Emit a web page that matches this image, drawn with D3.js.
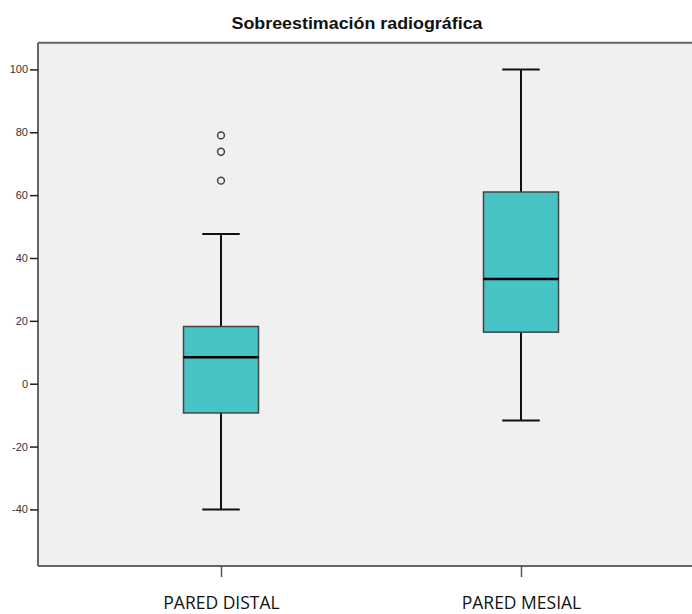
<!DOCTYPE html>
<html>
<head>
<meta charset="utf-8">
<script src="https://cdn.jsdelivr.net/npm/d3@7"></script>
<style>
  body { margin: 0; background: #fff; }
  svg { display: block; }
</style>
</head>
<body>
<svg width="692" height="614"></svg>
<script>
// Values
const categories = ["PARED DISTAL", "PARED MESIAL"];
const whiskerLow = [-40, -11.7];
const q1 = [-9.3, 16.4];
const median = [8.4, 33.3];
const q3 = [18.2, 61.0];
const whiskerHigh = [47.6, 100];
const outliers = [[64.6, 73.8, 79.0], []];
const yTicks = [-40, -20, 0, 20, 40, 60, 80, 100];

const svg = d3.select("svg"),
    width = +svg.attr("width"),
    height = +svg.attr("height");

const plotLeft = 38, plotTop = 42.7, plotBottom = 566;

const y = d3.scaleLinear().domain([-58, 108.5]).range([plotBottom, plotTop]);
// plot continues past the right edge of the picture
const x = d3.scalePoint().domain(categories).range([plotLeft, 704]).padding(0.61);
const step = x.step();
const boxW = step * 0.25;
const capW = boxW / 2;

// plot background
svg.append("rect")
    .attr("x", plotLeft).attr("y", plotTop)
    .attr("width", width - plotLeft).attr("height", plotBottom - plotTop)
    .attr("fill", "#f0f0f0");

// title
svg.append("text")
    .attr("x", 357).attr("y", 29)
    .attr("text-anchor", "middle")
    .attr("textLength", 251)
    .attr("lengthAdjust", "spacingAndGlyphs")
    .style("font-family", "Liberation Sans, Arial, sans-serif")
    .style("font-weight", "bold")
    .style("font-size", "16px")
    .attr("fill", "#111")
    .text("Sobreestimación radiográfica");

const data = categories.map((c, i) => ({
    name: c, lo: whiskerLow[i], q1: q1[i], med: median[i], q3: q3[i], hi: whiskerHigh[i], out: outliers[i]
}));

const g = svg.append("g");

const box = g.selectAll(".box").data(data).enter().append("g").attr("class", "box");

// whisker stems
box.append("line")
    .attr("x1", d => x(d.name)).attr("x2", d => x(d.name))
    .attr("y1", d => y(d.hi)).attr("y2", d => y(d.q3))
    .attr("stroke", "#111").attr("stroke-width", 2);
box.append("line")
    .attr("x1", d => x(d.name)).attr("x2", d => x(d.name))
    .attr("y1", d => y(d.q1)).attr("y2", d => y(d.lo))
    .attr("stroke", "#111").attr("stroke-width", 2);

// caps
box.selectAll(".cap").data(d => [{ n: d.name, v: d.hi }, { n: d.name, v: d.lo }])
    .enter().append("line")
    .attr("x1", d => x(d.n) - capW / 2).attr("x2", d => x(d.n) + capW / 2)
    .attr("y1", d => y(d.v)).attr("y2", d => y(d.v))
    .attr("stroke", "#111").attr("stroke-width", 2);

// boxes
box.append("rect")
    .attr("x", d => x(d.name) - boxW / 2)
    .attr("y", d => y(d.q3))
    .attr("width", boxW)
    .attr("height", d => y(d.q1) - y(d.q3))
    .attr("fill", "#47c3c6")
    .attr("stroke", "#444")
    .attr("stroke-width", 1.5);

// medians
box.append("line")
    .attr("x1", d => x(d.name) - boxW / 2).attr("x2", d => x(d.name) + boxW / 2)
    .attr("y1", d => y(d.med)).attr("y2", d => y(d.med))
    .attr("stroke", "#000").attr("stroke-width", 2.5);

// outliers
box.selectAll(".out").data(d => d.out.map(v => ({ n: d.name, v })))
    .enter().append("circle")
    .attr("cx", d => x(d.n)).attr("cy", d => y(d.v))
    .attr("r", 3.4)
    .attr("fill", "none")
    .attr("stroke", "#444")
    .attr("stroke-width", 1.5);

// y axis
const yAxis = svg.append("g")
    .attr("transform", `translate(${plotLeft},0)`)
    .call(d3.axisLeft(y).tickValues(yTicks).tickFormat(d => String(d))
        .tickSize(8).tickPadding(2).tickSizeOuter(0));
yAxis.select(".domain").attr("stroke", "#666").attr("stroke-width", 2)
    .attr("d", `M0,${plotTop}V${plotBottom}`);
yAxis.selectAll(".tick line").attr("stroke", "#222").attr("stroke-width", 1.5);
yAxis.selectAll(".tick text")
    .style("font-family", "Liberation Sans, Arial, sans-serif")
    .style("font-size", "11px")
    .attr("fill", "#333");

// x axis
const xAxis = svg.append("g")
    .attr("transform", `translate(0,${plotBottom})`)
    .call(d3.axisBottom(x).tickSize(11).tickPadding(20).tickSizeOuter(0));
xAxis.select(".domain").attr("stroke", "#666").attr("stroke-width", 2)
    .attr("d", `M${plotLeft},0H${width}`);
xAxis.selectAll(".tick line").attr("stroke", "#555").attr("stroke-width", 1.5);
xAxis.selectAll(".tick text")
    .style("font-family", "Open Sans, sans-serif")
    .style("font-size", "17.5px")
    .attr("fill", "#111");

// top border
svg.append("line")
    .attr("x1", plotLeft).attr("x2", width)
    .attr("y1", plotTop).attr("y2", plotTop)
    .attr("stroke", "#666").attr("stroke-width", 2);
</script>
</body>
</html>
